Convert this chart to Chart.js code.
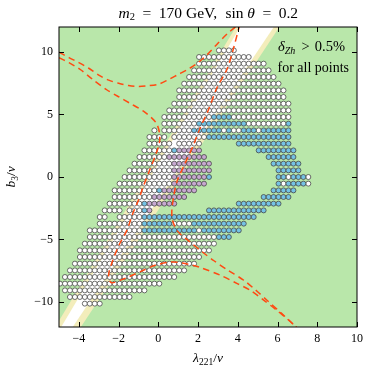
<!DOCTYPE html>
<html><head><meta charset="utf-8">
<script src="https://cdn.jsdelivr.net/npm/chart.js@4.4.0/dist/chart.umd.min.js"></script>
<style>html,body{margin:0;padding:0;background:#fff}#wrap{width:374px;height:374px;position:relative}</style>
</head><body><div id="wrap"><canvas id="c"></canvas></div>
<script>
// ---- data ----
const xTicks = [-4, -2, 0, 2, 4, 6, 8, 10];
const yTicks = [-10, -5, 0, 5, 10];
// scan grid columns (lambda_221 / v)
const xGrid = [-4.95,-4.7,-4.45,-4.2,-3.95,-3.7,-3.45,-3.2,-2.95,-2.7,-2.45,-2.2,-1.95,-1.7,-1.45,-1.2,-0.95,-0.7,-0.45,-0.2,
  0.05,0.3,0.55,0.8,1.05,1.3,1.55,1.8,2.05,2.3,2.55,2.8,3.05,3.3,3.55,3.8,4.05,4.3,4.55,4.8,
  5.05,5.3,5.55,5.8,6.05,6.3,6.55,6.8,7.05,7.3,7.55];
// scan grid rows (b_3 / v), top to bottom
const bRows = [10.13,9.6,9.07,8.53,8.0,7.47,6.93,6.4,5.87,5.33,4.8,4.27,3.73,3.2,2.67,2.13,1.6,1.07,0.53,0,
  -0.53,-1.07,-1.6,-2.13,-2.67,-3.2,-3.73,-4.27,-4.8,-5.33,-5.87,-6.4,-6.93,-7.47,-8.0,-8.53,-9.07,-9.6,-10.13];
// per row: runs of grid columns [first, last, class]  w = plain, b = blue, p = purple
const rowRuns = [
  [[32,35,'w']],
  [[28,38,'w']],
  [[28,41,'w']],
  [[27,42,'w']],
  [[26,43,'w']],
  [[25,44,'w']],
  [[24,45,'w']],
  [[24,45,'w']],
  [[23,46,'w']],
  [[22,46,'w']],
  [[21,30,'w'],[31,34,'b'],[35,46,'w']],
  [[21,27,'w'],[28,37,'b'],[38,45,'w'],[46,46,'b']],
  [[19,19,'w'],[21,26,'w'],[27,32,'b'],[33,33,'w'],[34,34,'b'],[35,36,'w'],[37,39,'b'],[40,40,'w'],[41,46,'b']],
  [[18,21,'w'],[23,29,'w'],[30,46,'b']],
  [[18,22,'w'],[24,28,'w'],[36,46,'b']],
  [[17,22,'w'],[23,23,'b'],[24,28,'p'],[40,47,'b']],
  [[16,21,'w'],[22,29,'p'],[42,47,'b']],
  [[15,22,'w'],[23,30,'p'],[43,48,'b']],
  [[14,22,'w'],[23,30,'p'],[44,48,'b']],
  [[13,22,'w'],[23,29,'p'],[30,30,'b'],[44,45,'b'],[46,46,'w'],[47,49,'b'],[50,50,'w']],
  [[12,22,'w'],[23,29,'p'],[44,44,'b'],[45,45,'w'],[46,49,'b'],[50,50,'w']],
  [[11,19,'w'],[20,20,'b'],[21,27,'p'],[43,47,'b']],
  [[11,18,'w'],[19,25,'p'],[41,46,'b']],
  [[10,16,'w'],[17,17,'b'],[18,23,'p'],[36,44,'b']],
  [[9,12,'w'],[14,16,'w'],[17,17,'b'],[18,18,'p'],[30,41,'b']],
  [[8,9,'w'],[12,16,'w'],[17,39,'b']],
  [[8,16,'w'],[17,22,'b'],[23,26,'w'],[27,37,'b']],
  [[6,16,'w'],[17,27,'b'],[28,28,'w'],[29,36,'b']],
  [[6,31,'w'],[32,34,'b']],
  [[5,31,'w']],
  [[4,30,'w']],
  [[4,28,'w']],
  [[3,27,'w']],
  [[2,25,'w']],
  [[1,23,'w']],
  [[0,20,'w']],
  [[1,17,'w']],
  [[2,14,'w']],
  [[5,8,'w']]
];
// dashed contours
const curveA = [[-5.0,9.98],[-4.5,9.55],[-4.0,9.15],[-3.5,8.7],[-3.0,8.15],[-2.5,7.75],[-2.0,7.5],[-1.5,7.32],[-1.0,7.25],[-0.5,7.3],[0.0,7.42],[0.5,7.78],[1.0,8.2],[1.5,8.62],[2.0,9.15],[2.5,9.85],[3.0,10.7],[3.5,11.5],[4.0,12.15]];
const curveB = [[-5.0,9.55],[-4.5,9.15],[-3.93,8.6],[-3.3,7.8],[-2.6,6.98],[-2.0,6.42],[-1.45,5.92],[-0.75,5.27],[-0.35,4.75],[-0.08,4.25],[0.06,3.5],[0.05,2.7],[-0.15,1.7],[-0.45,0.5],[-0.72,-0.6],[-1.0,-1.85],[-1.28,-2.9],[-1.58,-4.25],[-1.98,-5.45],[-2.32,-6.79],[-2.5,-7.8],[-2.38,-8.45],[-1.9,-8.25],[-1.5,-8.0],[-0.75,-7.46],[-0.16,-7.06],[0.65,-6.8],[1.2,-6.88],[1.77,-7.08],[2.11,-7.24],[3.12,-7.86],[4.0,-8.55],[4.63,-9.06],[5.3,-9.85],[5.97,-10.67],[6.67,-11.6],[7.0,-12.1]];
const curveC = [[4.1,12.2],[3.75,10.1],[3.45,8.6],[2.95,7.14],[2.53,5.4],[2.1,3.9],[1.77,2.57],[1.27,0.83],[0.95,-0.3],[0.78,-1.5],[0.68,-2.7],[0.72,-3.5],[0.98,-4.35],[1.6,-5.2],[2.22,-6.0],[2.8,-6.7],[3.5,-7.45],[4.3,-8.26],[4.9,-9.05],[5.47,-9.86],[6.2,-10.9],[6.9,-11.95],[7.0,-12.1]];
// shaded band (outer pale yellow, inner white)
const bandOuter = [[3.9,12],[6.09,12],[-3.90,-12],[-5.19,-12]];
const bandInner = [[4.12,12],[5.81,12],[-4.31,-12],[-4.89,-12]];

// ---- styles ----
const GREEN = '#b9e7aa', YELLOW = '#f3edbb', BLUE = '#74c2e4', PURPLE = '#c7a8d0', RED = '#ff4a12';
const SERIF = "'Liberation Serif', 'DejaVu Serif', serif";

function pointsOf(code){
  const out = [];
  rowRuns.forEach((runs, r) => runs.forEach(([a, b, c]) => {
    if (c !== code) return;
    for (let i = a; i <= b; i++) out.push({x: xGrid[i], y: bRows[r]});
  }));
  return out;
}
const toXY = arr => arr.map(([x, y]) => ({x, y}));

function dotSet(code, color, order){
  return {data: pointsOf(code), pointRadius: 2.5, pointBackgroundColor: color,
    pointBorderColor: '#474747', pointBorderWidth: 0.8, showLine: false, order};
}
function curveSet(arr){
  return {data: toXY(arr), showLine: true, pointRadius: 0, borderColor: RED, borderWidth: 1.5,
    borderDash: [6.5, 4.5], tension: 0.3, fill: false, order: 0};
}

const bgPlugin = {
  id: 'bg',
  beforeDatasetsDraw(chart){
    const {ctx, chartArea: a, scales: {x, y}} = chart;
    ctx.save();
    ctx.beginPath(); ctx.rect(a.left, a.top, a.right - a.left, a.bottom - a.top); ctx.clip();
    ctx.fillStyle = GREEN; ctx.fillRect(a.left, a.top, a.right - a.left, a.bottom - a.top);
    const poly = (pts, col) => {
      ctx.beginPath();
      pts.forEach(([px, py], i) => {
        const X = x.getPixelForValue(px), Y = y.getPixelForValue(py);
        i ? ctx.lineTo(X, Y) : ctx.moveTo(X, Y);
      });
      ctx.closePath(); ctx.fillStyle = col; ctx.fill();
    };
    poly(bandOuter, YELLOW);
    poly(bandInner, '#ffffff');
    ctx.restore();
  }
};

// segs: [text, font, dy, gapWeightAfter]
function rich(ctx, segs, x0, base, targetW){
  let w = 0, tw = 0;
  segs.forEach(s => { ctx.font = s[1]; w += ctx.measureText(s[0]).width; tw += (s[3] || 0); });
  const unit = targetW && tw ? (targetW - w) / tw : 0;
  let xx = x0;
  segs.forEach(s => { ctx.font = s[1]; ctx.fillText(s[0], xx, base + (s[2] || 0)); xx += ctx.measureText(s[0]).width + (s[3] || 0) * unit; });
  return w;
}
function widthOf(ctx, segs){ let w = 0; segs.forEach(s => { ctx.font = s[1]; w += ctx.measureText(s[0]).width; }); return w; }

const frontPlugin = {
  id: 'front',
  afterDraw(chart){
    const {ctx, chartArea: a, scales: {x, y}} = chart;
    ctx.save();
    ctx.strokeStyle = '#000'; ctx.lineWidth = 1;
    ctx.strokeRect(a.left, a.top, a.right - a.left, a.bottom - a.top);
    ctx.beginPath();
    xTicks.forEach(v => {
      const X = Math.round(x.getPixelForValue(v)) + 0.5;
      ctx.moveTo(X, a.bottom); ctx.lineTo(X, a.bottom - 5);
      ctx.moveTo(X, a.top); ctx.lineTo(X, a.top + 5);
    });
    yTicks.forEach(v => {
      const Y = Math.round(y.getPixelForValue(v)) + 0.5;
      ctx.moveTo(a.left, Y); ctx.lineTo(a.left + 5, Y);
      ctx.moveTo(a.right, Y); ctx.lineTo(a.right - 5, Y);
    });
    ctx.stroke();

    ctx.fillStyle = '#000'; ctx.textBaseline = 'alphabetic'; ctx.textAlign = 'left';
    const F = sz => sz + 'px ' + SERIF, FI = sz => 'italic ' + sz + 'px ' + SERIF;
    // title
    const tsegs = [['m', FI(15.5)], ['2', F(10.5), 2.5, 1], ['=', F(15.5), 0, 1], ['170', F(15.5), 0, 0.55], ['GeV,', F(15.5), 0, 1.1],
      ['sin', F(15.5), 0, 0.5], ['θ', FI(15.5), 0, 1], ['=', F(15.5), 0, 1], ['0.2', F(15.5)]];
    rich(ctx, tsegs, 118.5, 17.5, 179.5);
    // annotation
    rich(ctx, [['δ', FI(14.5)], ['Zh', FI(10), 3, 1.2], ['>', F(14.5), 0, 1], ['0.5%', F(14.5)]], 278, 50.5, 67);
    ctx.font = F(14); ctx.fillText('for all points', 277.5, 71.5);
    // x label
    const xl = [['λ', FI(13.5)], ['221', F(9.5), 3], ['/', F(13.5)], ['v', FI(13.5)]];
    rich(ctx, xl, (a.left + a.right) / 2 - widthOf(ctx, xl) / 2, 362);
    // y label
    ctx.translate(15, (a.top + a.bottom) / 2); ctx.rotate(-Math.PI / 2);
    const yl = [['b', FI(13.5)], ['3', F(9.5), 3], ['/', F(13.5)], ['v', FI(13.5)]];
    rich(ctx, yl, -widthOf(ctx, yl) / 2, 0);
    ctx.restore();
  }
};

const fmt = v => (v < 0 ? '\u2212' + Math.abs(v) : String(v));
Chart.defaults.animation = false;
new Chart(document.getElementById('c'), {
  type: 'scatter',
  data: {datasets: [
    curveSet(curveA), curveSet(curveB), curveSet(curveC),
    dotSet('b', BLUE, 1), dotSet('p', PURPLE, 2), dotSet('w', '#ffffff', 3)
  ]},
  options: {
    responsive: true, maintainAspectRatio: false, devicePixelRatio: 1, events: [],
    layout: {padding: {left: 0, right: 17, top: 27, bottom: 0}},
    plugins: {legend: {display: false}, tooltip: {enabled: false}, title: {display: false}},
    scales: {
      x: {type: 'linear', min: -5, max: 10,
        afterBuildTicks: s => { s.ticks = xTicks.map(v => ({value: v})); },
        afterFit: s => { s.height = 47; },
        grid: {display: false, drawTicks: false}, border: {display: false},
        ticks: {padding: 5, color: '#000', font: {family: SERIF, size: 12}, callback: v => fmt(v), maxRotation: 0, autoSkip: false}},
      y: {type: 'linear', min: -12, max: 12,
        afterBuildTicks: s => { s.ticks = yTicks.map(v => ({value: v})); },
        afterFit: s => { s.width = 59; },
        grid: {display: false, drawTicks: false}, border: {display: false},
        ticks: {padding: 6, color: '#000', font: {family: SERIF, size: 12}, callback: v => fmt(v), autoSkip: false}}
    }
  },
  plugins: [bgPlugin, frontPlugin]
});
</script>
</body></html>
